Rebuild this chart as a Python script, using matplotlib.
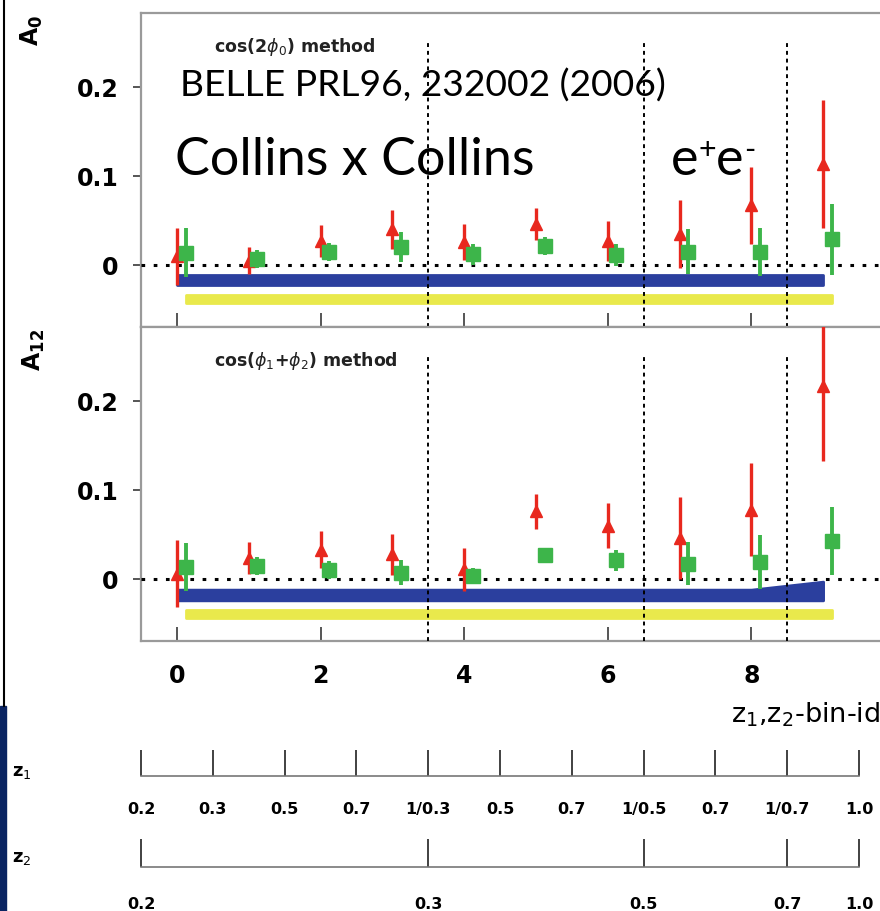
import numpy as np
import matplotlib
matplotlib.use("Agg")
import matplotlib.pyplot as plt
from matplotlib.lines import Line2D
from matplotlib.patches import Rectangle

plt.rcParams["font.family"] = ["DejaVu Sans"]
plt.rcParams["mathtext.fontset"] = "dejavusans"

# bin ids and z-binning
bin_id = np.arange(10)
xticks = [0, 2, 4, 6, 8]
z1_labels = ["0.2", "0.3", "0.5", "0.7", "1/0.3", "0.5", "0.7", "1/0.5", "0.7", "1/0.7", "1.0"]
z2_edges = [-0.5, 3.5, 6.5, 8.5, 9.5]
z2_labels = ["0.2", "0.3", "0.5", "0.7", "1.0"]
z1_bounds = [3.5, 6.5, 8.5]

# A0, cos(2phi0) method
a0_red = [0.010, 0.005, 0.027, 0.040, 0.026, 0.046, 0.027, 0.035, 0.067, 0.113]
a0_red_err = [0.032, 0.015, 0.018, 0.022, 0.020, 0.018, 0.022, 0.038, 0.043, 0.072]
a0_green = [0.014, 0.007, 0.015, 0.020, 0.012, 0.021, 0.011, 0.015, 0.015, 0.029]
a0_green_err = [0.027, 0.010, 0.010, 0.017, 0.012, 0.010, 0.012, 0.025, 0.027, 0.040]
a0_blue_lo = [-0.022] * 10
a0_blue_hi = [-0.011] * 10
a0_yel_lo = [-0.043] * 10
a0_yel_hi = [-0.034] * 10

# A12, cos(phi1+phi2) method
a12_red = [0.006, 0.024, 0.033, 0.028, 0.011, 0.076, 0.060, 0.046, 0.078, 0.217]
a12_red_err = [0.038, 0.018, 0.021, 0.023, 0.024, 0.020, 0.025, 0.046, 0.052, 0.084]
a12_green = [0.013, 0.015, 0.010, 0.007, 0.003, 0.027, 0.021, 0.017, 0.019, 0.043]
a12_green_err = [0.027, 0.010, 0.010, 0.014, 0.009, 0.008, 0.012, 0.024, 0.030, 0.038]
a12_blue_lo = [-0.024] * 10
a12_blue_hi = [-0.012] * 9 + [-0.003]
a12_yel_lo = [-0.044] * 10
a12_yel_hi = [-0.035] * 10

RED = "#e8281e"
GREEN = "#3db54a"
BLUE = "#2b3f9e"
YELLOW = "#e9e94c"
FRAME = "#9a9a9a"

XLIM = (-0.5, 10.0)
YLIM = (-0.0697, 0.2831)
green_shift = 0.12

fig = plt.figure(figsize=(8.8, 9.12), dpi=100)
left = 141 / 880
width = 10.5 * 71.8 / 880
ax_top = fig.add_axes([left, 1 - 328 / 912, width, 314 / 912])
ax_bot = fig.add_axes([left, 1 - 642 / 912, width, 314 / 912])


def panel(ax, red, red_err, green, green_err, blo, bhi, ylo, yhi, label, bottom):
    ax.set_xlim(*XLIM)
    ax.set_ylim(*YLIM)
    for s in ax.spines.values():
        s.set_color(FRAME)
        s.set_linewidth(1.6)
    ax.fill_between(bin_id, blo, bhi, color=BLUE, lw=2, edgecolor=BLUE, zorder=2)
    ax.fill_between(bin_id + green_shift, ylo, yhi, color=YELLOW, lw=2, edgecolor=YELLOW, zorder=2)
    ax.axhline(0, color="k", ls=(0, (1.2, 2.8)), lw=2.2, zorder=3)
    ax.vlines(z1_bounds, YLIM[0], 0.25, color="k", ls=(0, (2, 2)), lw=1.4, zorder=3)
    ax.errorbar(bin_id, red, yerr=red_err, fmt="^", color=RED, ms=9,
                elinewidth=2.4, capsize=0, zorder=4)
    ax.errorbar(bin_id + green_shift, green, yerr=green_err, fmt="s", color=GREEN, ms=9.5,
                elinewidth=2.8, capsize=0, zorder=5)
    ax.set_xticks(xticks)
    ax.set_yticks([0, 0.1, 0.2])
    ax.set_yticklabels(["0", "0.1", "0.2"])
    ax.tick_params(axis="x", direction="in", length=10, width=1.4, color="#555555",
                   labelbottom=bottom, labelsize=17, pad=16)
    ax.tick_params(axis="y", direction="out", length=6, width=1.4, color="#555555",
                   labelsize=17, pad=10)
    for t in ax.get_xticklabels() + ax.get_yticklabels():
        t.set_fontweight("bold")
    ax.text(0.52, 0.246, label, fontsize=12.5, fontweight="bold", ha="left", va="center",
            color="#222222")


panel(ax_top, a0_red, a0_red_err, a0_green, a0_green_err, a0_blue_lo, a0_blue_hi,
      a0_yel_lo, a0_yel_hi, r"cos(2$\phi_0$) method", False)
panel(ax_bot, a12_red, a12_red_err, a12_green, a12_green_err, a12_blue_lo, a12_blue_hi,
      a12_yel_lo, a12_yel_hi, r"cos($\phi_1$+$\phi_2$) method", True)

# z1 / z2 scales
ax_z1 = fig.add_axes([left, 1 - 777 / 912, width, 0.03])
ax_z2 = fig.add_axes([left, 1 - 868 / 912, width, 0.03])
z1_edges = np.arange(-0.5, 10, 1.0)
for ax, edges, labels, tl, pad in [(ax_z1, z1_edges, z1_labels, 19, 18),
                                   (ax_z2, z2_edges, z2_labels, 20, 21)]:
    ax.set_xlim(*XLIM)
    ax.set_ylim(0, 1)
    ax.patch.set_visible(False)
    for k in ["top", "left", "right"]:
        ax.spines[k].set_visible(False)
    ax.spines["bottom"].set_bounds(edges[0], edges[-1])
    ax.spines["bottom"].set_color("#777777")
    ax.spines["bottom"].set_linewidth(1.2)
    ax.set_yticks([])
    ax.set_xticks(edges)
    ax.set_xticklabels(labels, fontsize=11.5, fontweight="bold")
    ax.tick_params(axis="x", direction="in", length=tl, width=1.3, color="#333333", pad=pad)

fig.text(12 / 880, 1 - 772 / 912, "z$_1$", fontsize=13, fontweight="bold", va="center")
fig.text(12 / 880, 1 - 858 / 912, "z$_2$", fontsize=13, fontweight="bold", va="center")

# axis titles
fig.text(32 / 880, 1 - 30 / 912, r"$\mathbf{A_0}$", fontsize=17, rotation=90,
         ha="center", va="center")
fig.text(34 / 880, 1 - 350 / 912, r"$\mathbf{A_{12}}$", fontsize=17, rotation=90,
         ha="center", va="center")
fig.text(1.0, 1 - 723 / 912, "z$_1$,z$_2$-bin-id", fontsize=19.5, ha="right", va="baseline")

# overlaid slide text
fig.text(180 / 880, 1 - 97 / 912, "BELLE PRL96, 232002 (2006)", family="Lato",
         fontsize=26.8, va="baseline")
fig.text(175 / 880, 1 - 175 / 912, "Collins x Collins", family="Lato",
         fontsize=37.5, va="baseline")
e1 = fig.text(671 / 880, 1 - 175 / 912, "e", family="Lato", fontsize=37.5, va="baseline")
plus = ax_z2.annotate("+", xy=(1, 0.42), xycoords=e1, family="Lato", fontsize=22,
                      va="bottom", ha="left", annotation_clip=False)
e2 = ax_z2.annotate("e", xy=(1, 0), xycoords=(plus, e1), family="Lato", fontsize=37.5,
                    va="bottom", ha="left", annotation_clip=False)
minus = ax_z2.annotate("-", xy=(1, 0.42), xycoords=e2, family="Lato", fontsize=22,
                       va="bottom", ha="left", annotation_clip=False)

# slide edge remnants
fig.add_artist(Line2D([4 / 880, 4 / 880], [1, 1 - 707 / 912], color="k", lw=1.5))
fig.add_artist(Rectangle((0, 0), 6 / 880, 205 / 912, color="#0a2462"))

fig.savefig("out.png", dpi=100)
